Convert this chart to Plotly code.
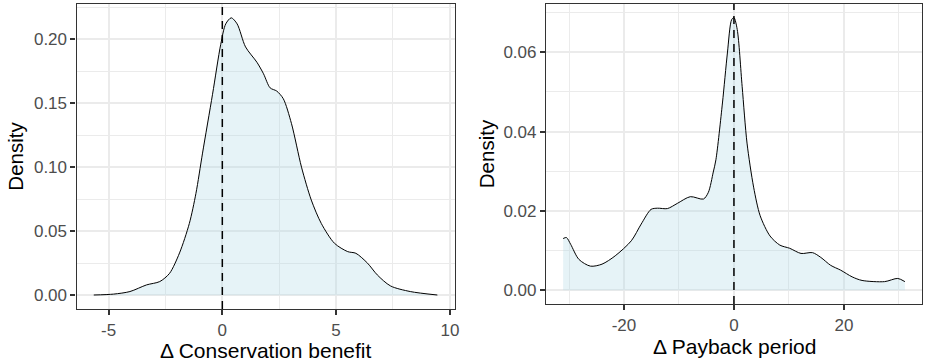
import plotly.graph_objects as go

# Δ Conservation benefit density
cb_x = [-5.65, -4.78, -4.06, -3.33, -2.75, -2.32, -1.88, -1.45, -1.16, -0.87, -0.43, -0.07,
        0.15, 0.39, 0.65, 1.02, 1.52, 1.81, 2.1, 2.39, 2.68, 3.04, 3.48, 3.91, 4.35, 4.93,
        5.51, 5.87, 6.38, 6.81, 7.39, 8.26, 9.45]
cb_y = [0.0001, 0.0008, 0.0028, 0.008, 0.0106, 0.017, 0.033, 0.056, 0.0795, 0.111, 0.157, 0.196,
        0.212, 0.2167, 0.212, 0.194, 0.182, 0.173, 0.162, 0.1595, 0.1535, 0.134, 0.100, 0.0743,
        0.056, 0.0405, 0.034, 0.0327, 0.025, 0.0158, 0.0072, 0.0028, 0.0001]

# Δ Payback period density
pb_x = [-31.07, -30.47, -29.7, -28.2, -26.1, -24.0, -21.6, -18.66, -16.87, -15.08, -13.9, -12.1,
        -10.3, -7.93, -5.55, -4.65, -3.76, -3.28, -2.09, -1.19, -0.42, 0.0, 0.6, 1.49, 2.38,
        3.58, 4.77, 6.56, 8.35, 10.14, 12.2, 14.3, 15.8, 17.6, 19.4, 21.5, 23.3, 27.4, 29.8, 31.1]
pb_y = [0.01305, 0.0133, 0.0116, 0.0078, 0.0061, 0.0066, 0.0087, 0.0125, 0.0167, 0.0204, 0.0207,
        0.0206, 0.0219, 0.0236, 0.023, 0.0247, 0.0298, 0.0329, 0.0472, 0.0598, 0.0682, 0.0687,
        0.0657, 0.0514, 0.0371, 0.026, 0.0188, 0.0137, 0.0114, 0.0106, 0.0093, 0.0095, 0.0083,
        0.0063, 0.0051, 0.0034, 0.0025, 0.0022, 0.0030, 0.0022]

cb_ticks = [-5, 0, 5, 10]
cb_yticks = [0.00, 0.05, 0.10, 0.15, 0.20]
pb_ticks = [-20, 0, 20]
pb_yticks = [0.00, 0.02, 0.04, 0.06]

cb_title = "Δ Conservation benefit"
pb_title = "Δ Payback period"
y_title = "Density"

W, H = 928, 363
FILL = "rgba(173,216,230,0.3)"
FONT = "Liberation Sans, Arial, sans-serif"
TICKCOL = "#4D4D4D"
GRID = "#EBEBEB"
BORDER = "#333333"

fig = go.Figure()
fig.add_trace(go.Scatter(x=cb_x, y=cb_y, mode="lines", fill="tozeroy", fillcolor=FILL,
                         line=dict(color="black", width=1, shape="spline", smoothing=0.8),
                         xaxis="x", yaxis="y", showlegend=False, hoverinfo="skip"))
fig.add_trace(go.Scatter(x=pb_x, y=pb_y, mode="lines", fill="tozeroy", fillcolor=FILL,
                         line=dict(color="black", width=1, shape="spline", smoothing=0.8),
                         xaxis="x2", yaxis="y2", showlegend=False, hoverinfo="skip"))


def px_x(p):
    return p / W


def px_y(p):
    return (H - p) / H


def axis_common():
    return dict(showline=True, mirror=True, linecolor=BORDER, linewidth=1.3,
                ticks="outside", ticklen=5, tickcolor=BORDER, tickwidth=1.6,
                showgrid=True, gridcolor=GRID, gridwidth=2, zeroline=False,
                tickfont=dict(family=FONT, size=17, color=TICKCOL),
                title_font=dict(family=FONT, size=20.5, color="black"))


def span(lo, hi):
    d = (hi - lo) * 0.05
    return [lo - d, hi + d]


xa = axis_common()
xa.update(domain=[px_x(77), px_x(457)], range=span(min(cb_x), max(cb_x)), anchor="y",
          tickvals=cb_ticks, ticktext=[str(v) for v in cb_ticks],
          minor=dict(dtick=2.5, tick0=-2.5, showgrid=True, gridcolor=GRID, gridwidth=1, ticklen=0))
ya = axis_common()
ya.update(domain=[px_y(309), px_y(4)], range=span(0, max(cb_y)), anchor="x",
          tickvals=cb_yticks, ticktext=[f"{v:.2f}" for v in cb_yticks],
          minor=dict(dtick=0.025, tick0=0.025, showgrid=True, gridcolor=GRID, gridwidth=1, ticklen=0),
          title=dict(text=y_title, standoff=4))
xa2 = axis_common()
xa2.update(domain=[px_x(549), px_x(927)], range=span(min(pb_x), max(pb_x)), anchor="y2",
           tickvals=pb_ticks, ticktext=[str(v) for v in pb_ticks],
           minor=dict(dtick=10, tick0=-30, showgrid=True, gridcolor=GRID, gridwidth=1, ticklen=0))
ya2 = axis_common()
ya2.update(domain=[px_y(304), px_y(4)], range=span(0, max(pb_y)), anchor="x2",
           tickvals=pb_yticks, ticktext=[f"{v:.2f}" for v in pb_yticks],
           minor=dict(dtick=0.01, tick0=0.01, showgrid=True, gridcolor=GRID, gridwidth=1, ticklen=0),
           title=dict(text=y_title, standoff=3))

fig.update_layout(width=W, height=H, margin=dict(l=0, r=0, t=0, b=0),
                  paper_bgcolor="white", plot_bgcolor="white",
                  xaxis=xa, yaxis=ya, xaxis2=xa2, yaxis2=ya2,
                  font=dict(family=FONT))

# x-axis titles (placed as annotations for exact vertical position)
fig.add_annotation(text=cb_title, xref="x domain", yref="paper", x=0.5, y=px_y(350.5),
                   xanchor="center", yanchor="middle", showarrow=False,
                   font=dict(family=FONT, size=21, color="black"))
fig.add_annotation(text=pb_title, xref="x2 domain", yref="paper", x=0.5, y=px_y(346),
                   xanchor="center", yanchor="middle", showarrow=False,
                   font=dict(family=FONT, size=21, color="black"))

for xr, yr in (("x", "y domain"), ("x2", "y2 domain")):
    fig.add_shape(type="line", xref=xr, yref=yr, x0=0, x1=0, y0=0, y1=1,
                  line=dict(color="black", width=1.5, dash="8px,6px"), layer="above")

fig.write_html("out.html")
